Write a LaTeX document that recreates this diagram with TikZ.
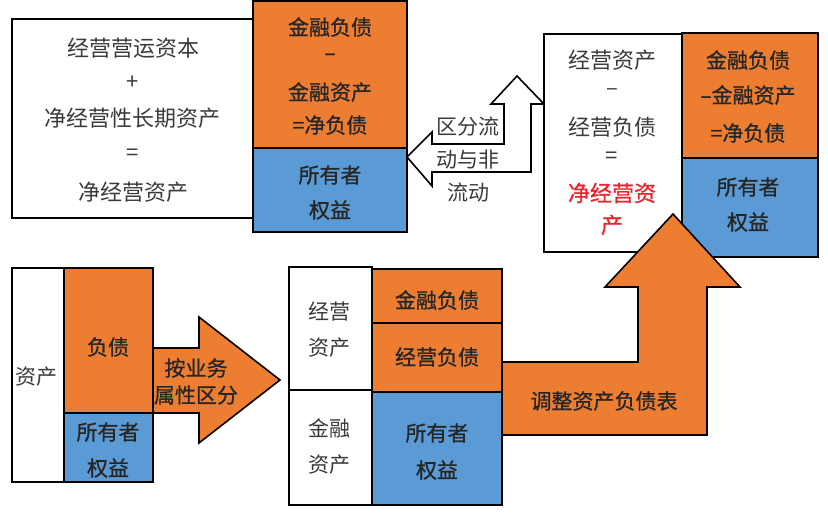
\documentclass[tikz,border=0pt]{standalone}
\usepackage{fontspec}
\setmainfont{Noto Sans CJK SC}
\newfontfamily\heavycjk[FakeBold=0.9]{Noto Sans CJK SC}
\definecolor{orng}{HTML}{ED7D31}
\definecolor{blu}{HTML}{5B9BD5}
\definecolor{txt}{HTML}{3A3A3A}
\definecolor{txtd}{HTML}{262626}
\definecolor{redt}{HTML}{E8262B}
\tikzset{
  wbox/.style={draw=black, fill=white, line width=1.6pt},
  obox/.style={draw=black, fill=orng, line width=1.6pt},
  bbox/.style={draw=black, fill=blu, line width=1.6pt},
  barrow/.style={draw=black, line width=1.6pt, line join=miter},
  lbl/.style={inner sep=0pt, text=txtd, font=\heavycjk\fontsize{21}{25}\selectfont},
  lblw/.style={inner sep=0pt, text=txt, font=\fontsize{21}{25}\selectfont},
  lblb/.style={lblw, font=\fontsize{22}{26}\selectfont},
  lblr/.style={inner sep=0pt, text=redt, font=\heavycjk\fontsize{22}{26}\selectfont},
}
\begin{document}
\begin{tikzpicture}[x=1pt,y=-1pt]
\useasboundingbox (0,0) rectangle (828,514);
% ---------- top-left group ----------
\draw[wbox] (12,19) rectangle (255,218);
\draw[obox] (253,1) rectangle (407,148);
\draw[bbox] (253,148) rectangle (407,232);
\node[lblb] (a1) at (133,48) {经营营运资本};
\node[lblb] (a2) at (133,83) {+};
\node[lblb] (a3) at (133,118) {净经营性长期资产};
\node[lblb] (a4) at (133,155) {=};
\node[lblb] (a5) at (133,192) {净经营资产};
\node[lbl] (b1) at (330,27) {金融负债};
\node[lbl] (b2) at (330,57) {–};
\node[lbl] (b3) at (330,92) {金融资产};
\node[lbl] (b4) at (330,125) {=净负债};
\node[lbl] (b5) at (330,175) {所有者};
\node[lbl] (b6) at (330,210) {权益};
% ---------- bent white arrow ----------
\draw[barrow, fill=white] (407,157) -- (432,132) -- (432,144) -- (504,144) -- (504,104)
  -- (491,104) -- (517,76) -- (544,104) -- (531,104) -- (531,172) -- (432,172)
  -- (432,186) -- cycle;
\node[lblw] (c1) at (468,127) {区分流};
\node[lblw] (c2) at (468,160) {动与非};
\node[lblw] (c3) at (468,193) {流动};
% ---------- top-right group ----------
\draw[wbox] (544,34) rectangle (682,252);
\draw[obox] (682,33) rectangle (818,158);
\draw[bbox] (682,158) rectangle (818,257);
\node[lblb] (d1) at (612,60) {经营资产};
\node[lblb] (d2) at (612,92) {–};
\node[lblb] (d3) at (612,127) {经营负债};
\node[lblb] (d4) at (612,158) {=};
\node[lblr] (d5) at (612,193) {净经营资};
\node[lblr] (d6) at (612,225) {产};
\node[lbl] (e1) at (748,60) {金融负债};
\node[lbl] (e2) at (748,95) {–金融资产};
\node[lbl] (e3) at (748,133) {=净负债};
\node[lbl] (e4) at (748,187) {所有者};
\node[lbl] (e5) at (748,222) {权益};
% ---------- bottom-left group ----------
\draw[wbox] (12,268) rectangle (64,482);
\draw[obox] (64,268) rectangle (153,413);
\draw[bbox] (64,413) rectangle (153,482);
\node[lblw] (f1) at (37,377) {资产};
\node[lbl] (f2) at (108,347) {负债};
\node[lbl] (f3) at (108,432) {所有者};
\node[lbl] (f4) at (108,468) {权益};
% right orange arrow
\draw[barrow, fill=orng] (153,348) -- (199,348) -- (199,317) -- (280,380) -- (199,443)
  -- (199,413) -- (153,413) -- cycle;
\node[lbl] (g1) at (196,368) {按业务};
\node[lbl] (g2) at (196,395) {属性区分};
% ---------- bottom-middle group ----------
\draw[wbox] (289,267) rectangle (372,505);
\draw[black, line width=1.6pt] (289,390) -- (372,390);
\draw[obox] (372,269) rectangle (502,323);
\draw[obox] (372,323) rectangle (502,392);
\draw[bbox] (372,392) rectangle (502,505);
\node[lblw] (h1) at (329,312) {经营};
\node[lblw] (h2) at (329,348) {资产};
\node[lblw] (h3) at (329,428) {金融};
\node[lblw] (h4) at (329,465) {资产};
\node[lbl] (i1) at (437,300) {金融负债};
\node[lbl] (i2) at (437,357) {经营负债};
\node[lbl] (i3) at (437,433) {所有者};
\node[lbl] (i4) at (437,470) {权益};
% ---------- up orange arrow ----------
\draw[barrow, fill=orng] (502,362) -- (638,362) -- (638,287) -- (605,287) -- (673,214)
  -- (740,287) -- (707,287) -- (707,435) -- (502,435) -- cycle;
\node[lbl] (j1) at (604,401) {调整资产负债表};
\end{tikzpicture}
\end{document}
